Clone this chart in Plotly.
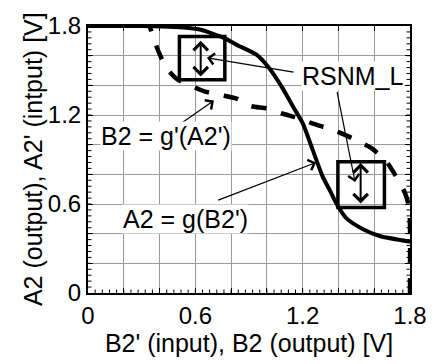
import plotly.graph_objects as go

# A2 = g(B2')  (solid)
g_x = [0, 0.3, 0.45, 0.55, 0.63, 0.76, 0.83, 0.94, 1.01, 1.084, 1.146, 1.2, 1.255, 1.31, 1.357, 1.39, 1.445, 1.538, 1.63, 1.8]
g_y = [1.8, 1.8, 1.795, 1.788, 1.775, 1.72, 1.674, 1.608, 1.52, 1.388, 1.257, 1.145, 0.968, 0.79, 0.68, 0.6, 0.503, 0.43, 0.384, 0.346]

# B2 = g'(A2')  (dashed)
gp_x = [1.8, 1.8, 1.795, 1.77, 1.72, 1.66, 1.58, 1.5, 1.41, 1.34, 1.25, 1.18, 1.085, 1.0, 0.91, 0.83, 0.74, 0.65, 0.57, 0.5, 0.45, 0.42, 0.39, 0.36, 0.345]
gp_y = [0, 0.45, 0.58, 0.68, 0.79, 0.9, 0.98, 1.03, 1.08, 1.11, 1.145, 1.178, 1.21, 1.244, 1.26, 1.31, 1.335, 1.36, 1.40, 1.44, 1.5, 1.56, 1.64, 1.74, 1.8]

# labelled ticks (grid every 0.2, labels every 0.6, small ticks every 0.04)
tick_labels = ["0", "0.6", "1.2", "1.8"]
grid_step = 0.2
minor_step = 0.04
axis_max = 1.8

# RSNM boxes: (x0, x1, y0, y1)
boxes = [(0.511, 0.765, 1.438, 1.729), (1.397, 1.657, 0.576, 0.885)]
# SNM double arrows: (x, y_low, y_high)
snm_arrows = [(0.63, 1.45, 1.70), (1.524, 0.594, 0.876)]

# labels: (text, x, y)
labels = [("RSNM_L", 1.481, 1.463), ("B2 = g'(A2')", 0.434, 1.059), ("A2 = g(B2')", 0.543, 0.496)]
# pointer arrows: (x_start, y_start, x_end, y_end)
pointers = [(0.475, 1.105, 0.704, 1.297), (0.72, 0.622, 1.275, 0.88),
            (1.157, 1.487, 0.665, 1.586), (1.391, 1.365, 1.493, 0.748)]

fig = go.Figure()
fig.add_trace(go.Scatter(x=g_x, y=g_y, mode="lines", cliponaxis=False,
                         line=dict(color="black", width=4, shape="spline", smoothing=0.6)))
fig.add_trace(go.Scatter(x=gp_x, y=gp_y, mode="lines", cliponaxis=False,
                         line=dict(color="black", width=4.5, dash="15px,15px", shape="spline", smoothing=0.6)))

for (x0, x1, y0, y1) in boxes:
    fig.add_shape(type="rect", xref="x", yref="y", x0=x0, x1=x1, y0=y0, y1=y1,
                  line=dict(color="black", width=3.5))

# small inside ticks (bottom, left and right axes)
n_minor = int(round(axis_max / minor_step))
minor_pos = [i * minor_step for i in range(1, n_minor)]
tick_line = dict(color="black", width=1)
for p in minor_pos:
    fig.add_shape(type="line", xref="x", yref="y", x0=p, x1=p, ysizemode="pixel", yanchor=0,
                  y0=0, y1=3.5, line=tick_line, layer="above")
    fig.add_shape(type="line", xref="x", yref="y", y0=p, y1=p, xsizemode="pixel", xanchor=0,
                  x0=0, x1=3.5, line=tick_line, layer="above")
    fig.add_shape(type="line", xref="x", yref="y", y0=p, y1=p, xsizemode="pixel", xanchor=axis_max,
                  x0=-3.5, x1=0, line=tick_line, layer="above")

for (x, yl, yh) in snm_arrows:
    fig.add_annotation(x=x, y=yh, ax=x, ay=yl, xref="x", yref="y", axref="x", ayref="y",
                       text="", showarrow=True, arrowhead=4, startarrowhead=4, arrowside="end+start",
                       arrowsize=1.4, startarrowsize=1.4, arrowwidth=2, arrowcolor="black")

for (xs, ys, xe, ye) in pointers:
    fig.add_annotation(x=xe, y=ye, ax=xs, ay=ys, xref="x", yref="y", axref="x", ayref="y",
                       text="", showarrow=True, arrowhead=4, arrowsize=1.8, arrowwidth=1.2,
                       arrowcolor="black")

for (t, x, y) in labels:
    fig.add_annotation(x=x, y=y, xref="x", yref="y", text=t, showarrow=False,
                       font=dict(size=25, color="black"), bgcolor="white", borderpad=0)

# y-axis title placed as a rotated annotation
fig.add_annotation(x=-0.172, y=0.5, xref="paper", yref="paper", xanchor="center", yanchor="middle",
                   text="A2 (output), A2' (intput) [V]", textangle=-90, showarrow=False,
                   font=dict(size=25, color="black"))

label_step = round((float(tick_labels[1]) - float(tick_labels[0])) / grid_step)

axis_common = dict(range=[0, axis_max], tickmode="linear", tick0=0, dtick=grid_step,
                   ticklabelstep=label_step,
                   showgrid=True, gridcolor="#9a9a9a", gridwidth=1.2, zeroline=False,
                   showline=True, linecolor="black", linewidth=2, mirror="ticks",
                   ticks="inside", ticklen=5, tickcolor="black", tickwidth=1,
                   tickfont=dict(size=24, color="black"))

fig.update_layout(
    width=439, height=364,
    margin=dict(l=88, r=21, t=21, b=71),
    paper_bgcolor="white", plot_bgcolor="white",
    font=dict(family="Liberation Sans, Arial, sans-serif", color="black"),
    showlegend=False,
    xaxis=dict(**axis_common, title=dict(text="B2' (input), B2 (output) [V]", font=dict(size=25), standoff=4)),
    yaxis=dict(**axis_common),
)

fig.write_html("out.html")
